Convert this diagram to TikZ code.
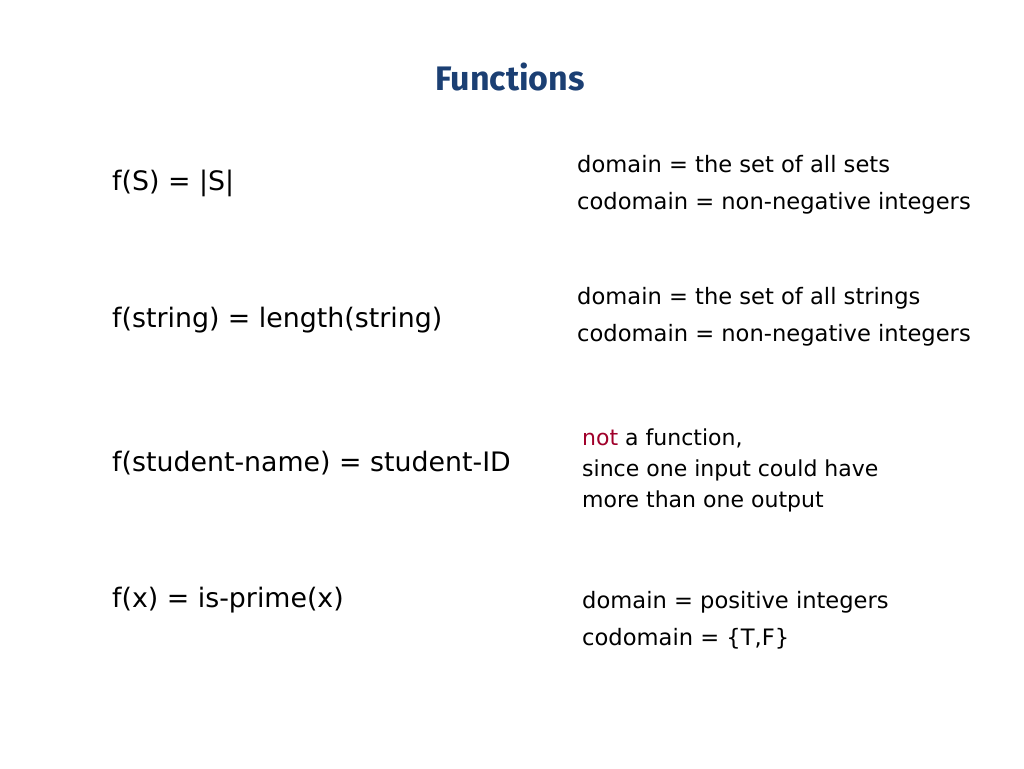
\documentclass[tikz,border=0pt]{standalone}
\usepackage{fontspec}
\setmainfont{DejaVu Sans}
\newfontfamily\titlefont{Fira Sans}
\definecolor{titleblue}{HTML}{1B3F73}
\definecolor{notred}{HTML}{A0002A}
\tikzset{lhs/.style={anchor=west,inner sep=0pt,font=\fontsize{26.8}{30}\selectfont},
  rhs/.style={anchor=west,inner sep=0pt,align=left,font=\fontsize{22.6}{37}\selectfont},
  rhsnarrow/.style={rhs,font=\fontsize{22}{31}\selectfont}}
\begin{document}
\begin{tikzpicture}[x=1pt,y=-1pt]
   \useasboundingbox (0,0) rectangle (1024,768);
   \node[font=\titlefont\bfseries\fontsize{34}{38}\selectfont,text=titleblue] (title) at (510,77) {Functions};
   \foreach \y/\name/\txt in {183/a/{f(S) = |S|}, 320/b/{f(string) = length(string)},
        463/c/{f(student-name) = student-ID}, 600/d/{f(x) = is-prime(x)}}
        \node[lhs] (\name) at (112,\y) {\txt};
   \node[rhs] (ra) at (577,185) {domain = the set of all sets\\codomain = non-negative integers};
   \node[rhs] (rb) at (577,317) {domain = the set of all strings\\codomain = non-negative integers};
   \node[rhsnarrow] (rc) at (582,470) {\textcolor{notred}{not} a function,\\since one input could have\\more than one output};
   \node[rhs] (rd) at (582,620) {domain = positive integers\\codomain = \{T,F\}};
\end{tikzpicture}
\end{document}
